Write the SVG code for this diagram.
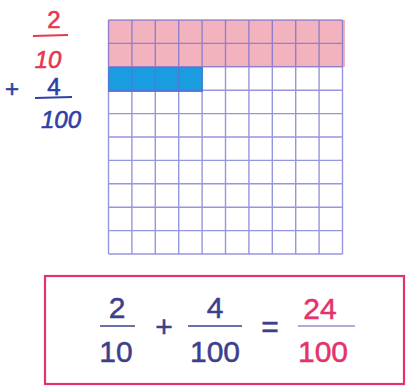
<svg xmlns="http://www.w3.org/2000/svg" width="409" height="389" viewBox="0 0 409 389">
<style>
.grid{stroke:#6a6ad0;stroke-width:1.4;fill:none;opacity:0.7}
.hand{font-family:"Liberation Sans",Arial,sans-serif;font-size:24px;stroke-width:0.6}
.red{fill:#e8364f;stroke:#e8364f}
.blu{fill:#2f3fa8;stroke:#2f3fa8}
.eq{font-family:"Liberation Sans",Arial,sans-serif;font-size:30px;text-anchor:middle;stroke-width:0.5}
.dk{fill:#3d3f8c;stroke:#3d3f8c}
.pk{fill:#e4336a;stroke:#e4336a}
</style>
<rect width="409" height="389" fill="#ffffff"/>
<g id="left-fractions">
<text class="hand red" x="54" y="28" text-anchor="middle">2</text>
<line x1="33" y1="36" x2="68" y2="35" stroke="#e8364f" stroke-width="2.2"/>
<text class="hand red" x="48" y="68" text-anchor="middle" font-style="italic">10</text>
<text class="hand blu" x="12" y="97" text-anchor="middle">+</text>
<text class="hand blu" x="54" y="95" text-anchor="middle">4</text>
<line x1="35" y1="98" x2="72" y2="97" stroke="#2f3fa8" stroke-width="2.2"/>
<text class="hand blu" x="61" y="128" text-anchor="middle" font-style="italic">100</text>
</g>
<g id="grid">
<rect x="108" y="20" width="237" height="47" fill="#f0a6b4" opacity="0.85"/>
<rect x="108" y="67" width="95" height="25" fill="#1a9de0"/>
<path class="grid" d="M108.5 20V254M131.9 20V254M155.3 20V254M178.7 20V254M202.1 20V254M225.5 20V254M248.9 20V254M272.3 20V254M295.7 20V254M319.1 20V254M342.5 20V254M108.5 20H342.5M108.5 43.4H342.5M108.5 66.8H342.5M108.5 90.2H342.5M108.5 113.6H342.5M108.5 137H342.5M108.5 160.4H342.5M108.5 183.8H342.5M108.5 207.2H342.5M108.5 230.6H342.5M108.5 254H342.5"/>
</g>
<g id="equation">
<rect x="45" y="276" width="359" height="108" fill="none" stroke="#e4336a" stroke-width="2.2"/>
<text class="eq dk" x="117" y="318">2</text>
<line x1="100" y1="326" x2="135" y2="326" stroke="#3d3f8c" stroke-width="1.5"/>
<text class="eq dk" x="116" y="362">10</text>
<text class="eq dk" x="164" y="337">+</text>
<text class="eq dk" x="215" y="318">4</text>
<line x1="188" y1="326" x2="242" y2="326" stroke="#3d3f8c" stroke-width="1.5"/>
<text class="eq dk" x="215" y="362">100</text>
<text class="eq dk" x="270" y="337">=</text>
<text class="eq pk" x="320" y="319">24</text>
<line x1="298" y1="326" x2="355" y2="326" stroke="#9a8fc8" stroke-width="1.5"/>
<text class="eq pk" x="323" y="362">100</text>
</g>
</svg>
